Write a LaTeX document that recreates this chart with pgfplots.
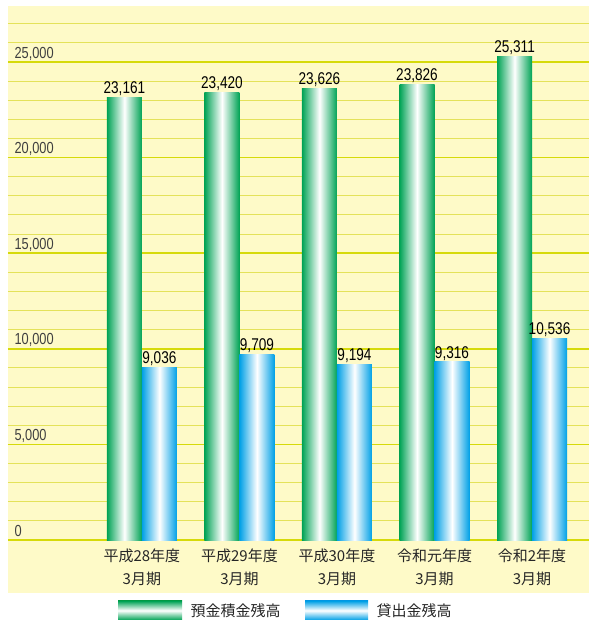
\documentclass[border=0pt]{standalone}
\usepackage{pgfplots}
\pgfplotsset{compat=1.18}
\usepackage{fontspec}
\setmainfont{Noto Sans CJK JP}
\newfontfamily\numfont[FakeStretch=0.8]{Liberation Sans}
\definecolor{panel}{RGB}{254,250,200}
\definecolor{gmaj}{RGB}{214,218,10}
\definecolor{gmin}{RGB}{228,226,90}
\definecolor{dgreen}{RGB}{0,163,85}
\definecolor{dblue}{RGB}{0,160,230}
\pgfplotsset{
  gbar/.style={draw=none, left color=dgreen, right color=dgreen, middle color=white, bar shift=-17.5pt},
  bbar/.style={draw=none, left color=dblue, right color=dblue, middle color=white, bar shift=17.5pt},
}
\begin{document}
\begin{tikzpicture}[x=1pt,y=1pt]
\useasboundingbox (0,0) rectangle (589,622);
\begin{axis}[
  at={(8pt,29pt)}, anchor=south west,
  scale only axis, width=581pt, height=587pt,
  xmin=-1.373, xmax=4.584, ymin=-2772, ymax=27930,
  axis line style={draw=none},
  axis background/.style={fill=panel},
  ybar, bar width=35pt,
  scaled y ticks=false,
  xtick={0,1,2,3,4},
  xticklabels={{平成28年度\\3月期},{平成29年度\\3月期},{平成30年度\\3月期},{令和元年度\\3月期},{令和2年度\\3月期}},
  xticklabel style={align=center, font=\fontsize{15}{23}\selectfont, text=black!85, anchor=north, yshift=48pt},
  major tick length=0pt, minor tick length=0pt,
  ytick={0,5000,10000,15000,20000,25000},
  yticklabels={0,{5,000},{10,000},{15,000},{20,000},{25,000}},
  minor ytick={1000,2000,...,27000},
  ymajorgrids, yminorgrids,
  major grid style={gmaj, line width=1.6pt},
  minor grid style={gmin, line width=1pt},
  yticklabel style={anchor=base west, xshift=3pt, yshift=4pt, font=\numfont\fontsize{16}{16}\selectfont, text=black!75},
  nodes near coords={\pgfmathprintnumber[fixed,precision=0,1000 sep={,},assume math mode=true]{\pgfplotspointmeta}},
  every node near coord/.append style={font=\numfont\fontsize{17}{17}\selectfont, text=black, anchor=south, inner sep=1.5pt},
]
\addplot[gbar] coordinates {(0,23161)};
\addplot[gbar] coordinates {(1,23420)};
\addplot[gbar] coordinates {(2,23626)};
\addplot[gbar] coordinates {(3,23826)};
\addplot[gbar] coordinates {(4,25311)};
\addplot[bbar] coordinates {(0,9036)};
\addplot[bbar] coordinates {(1,9709)};
\addplot[bbar] coordinates {(2,9194)};
\addplot[bbar] coordinates {(3,9316)};
\addplot[bbar] coordinates {(4,10536)};
\end{axis}
\shade[top color=dgreen, bottom color=dgreen, middle color=white] (118,2) rectangle (182,21);
\node[anchor=west, font=\fontsize{15}{15}\selectfont, text=black!85] at (187,11.5) {預金積金残高};
\shade[top color=dblue, bottom color=dblue, middle color=white] (305,2) rectangle (368,21);
\node[anchor=west, font=\fontsize{15}{15}\selectfont, text=black!85] at (373,11.5) {貸出金残高};
\end{tikzpicture}
\end{document}
